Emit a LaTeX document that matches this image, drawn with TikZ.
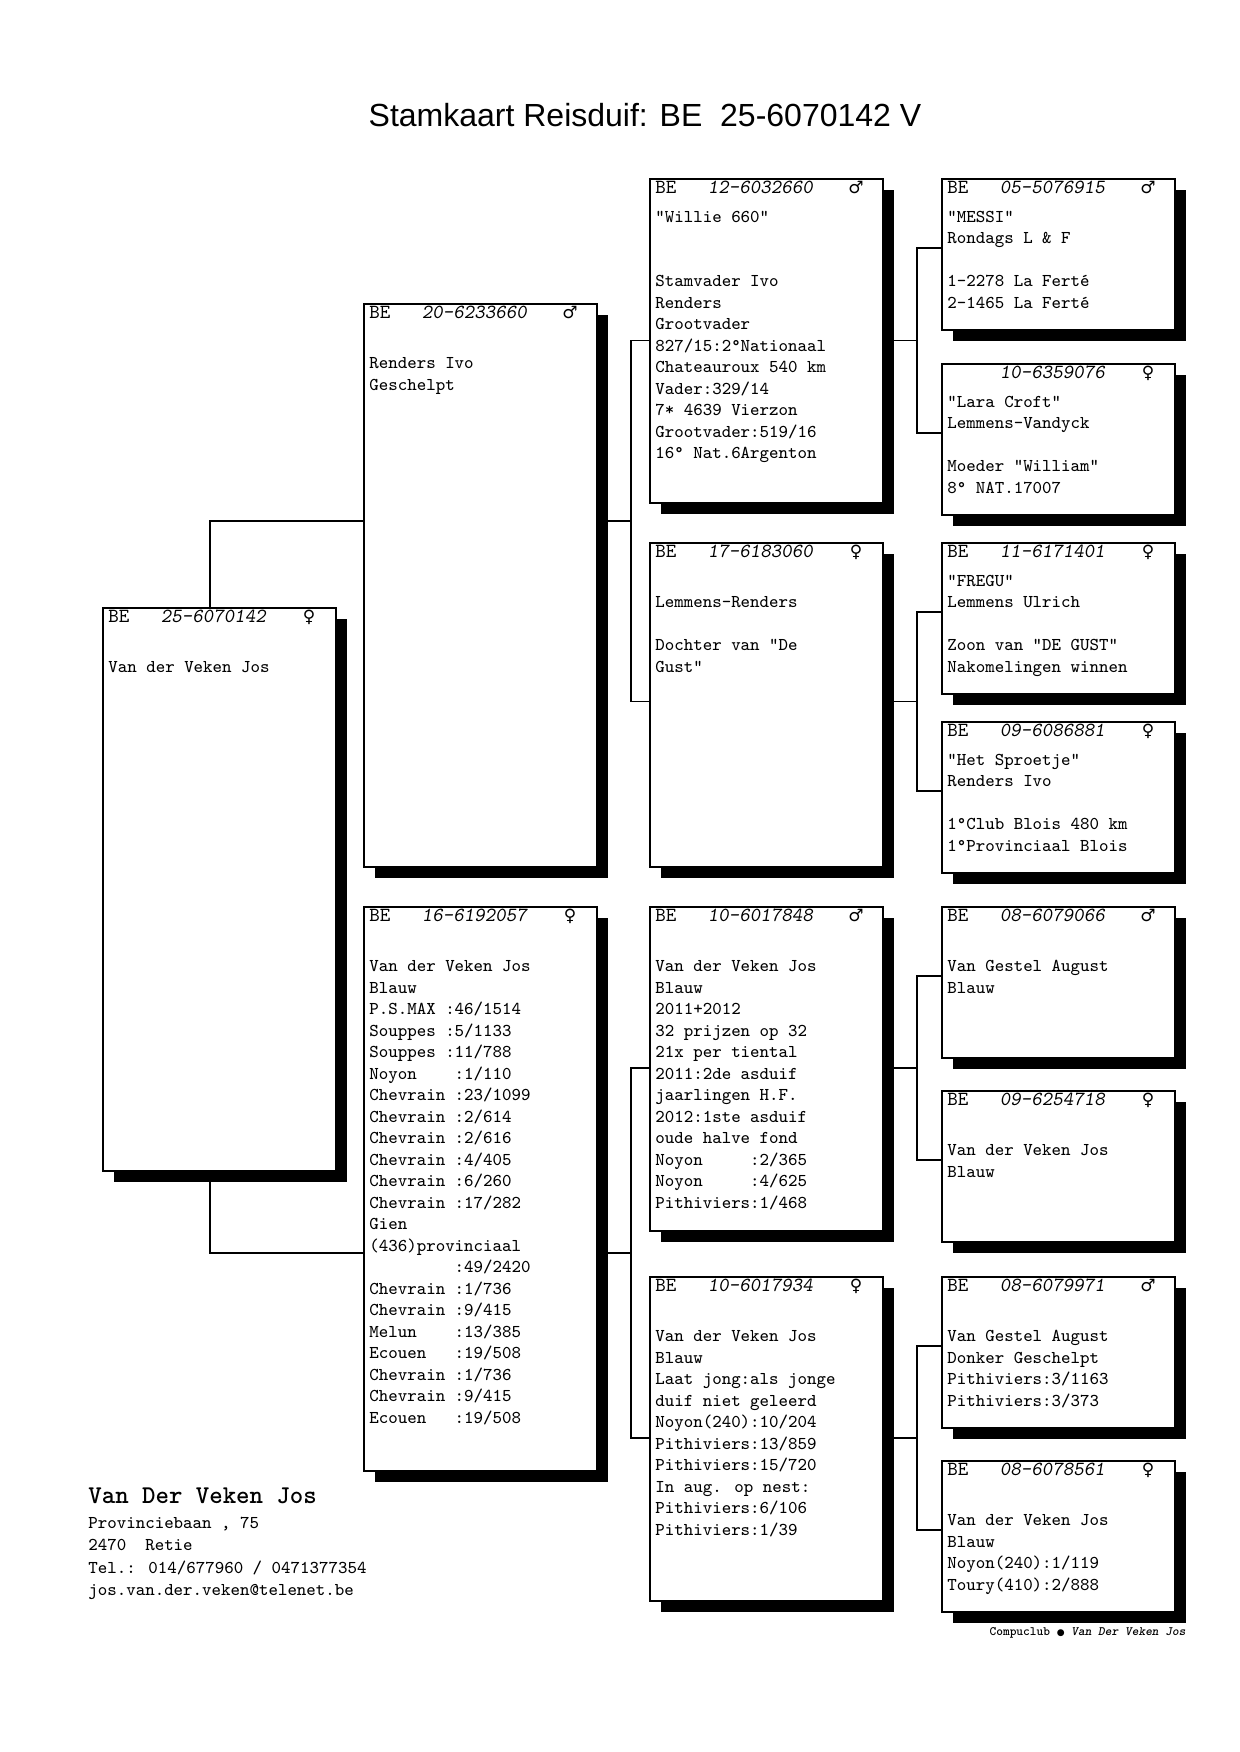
\documentclass[tikz,border=0pt]{standalone}
\usepackage{fontspec}
\usepackage{tikz}
\usetikzlibrary{calc,shadows,backgrounds}
\newfontfamily\titlefont{Liberation Sans}
\newfontfamily\symfont{DejaVu Sans}
\tikzset{
  card/.style={draw, line width=0.8pt, fill=white, anchor=north west, inner sep=0pt, minimum width=116.5pt,
    drop shadow={shadow xshift=5.5pt, shadow yshift=-5.5pt, fill=black, opacity=1}},
  head/.style={anchor=base west, inner sep=0pt, font=\ttfamily\fontsize{10}{11}\selectfont},
  sex/.style={anchor=base, inner sep=0pt, font=\symfont\fontsize{8.5}{10}\selectfont},
  row/.style={anchor=base west, inner sep=0pt, font=\ttfamily\fontsize{9.03}{10}\selectfont},
  link/.style={line width=0.7pt},
}
\newcommand{\kaart}[7]{%
  \node[card, minimum height=#4*0.5pt] (#1) at (#2,#3) {};
  \node[head] (#1-h) at ([xshift=3pt,yshift=-7.5pt]#1.north west) {#5};
  \node[sex] (#1-s) at ([xshift=103.5pt,yshift=-7.5pt]#1.north west) {#6};
  \foreach \t [count=\i] in {#7} {%
    \node[row] (#1-\i) at ([xshift=3pt,yshift={-(22+(\i-1)*10.75)*1pt}]#1.north west) {\t};
  }}
\newcommand{\ingang}[1]{\coordinate (#1-c) at ([yshift=-35pt]#1.north west);}
\newcommand{\koppel}[4]{%
  \coordinate (#1-c) at ($(#2-c)!.5!(#3-c)$);
  \coordinate (#1-c) at (#1.west |- #1-c);
  \coordinate (#1-k) at (#4,0 |- #1-c);
  \draw[link] (#1.east |- #1-c) -- (#1-k);
  \draw[link] (#2-c) -| (#1-k) |- (#3-c);}

\begin{document}
\begin{tikzpicture}[x=0.5pt,y=-0.5pt]
  \useasboundingbox (0,0) rectangle (1239,1752);
  \node[font=\titlefont\fontsize{16}{19}\selectfont, anchor=base, inner sep=0pt] (titel) at (645,126)
    {Stamkaart Reisduif: BE~~25-6070142 V};

  \kaart{duif}{102}{607}{563}{BE~~~\textsl{25-6070142}}{♀}{,Van der Veken Jos}
  \kaart{v}{363}{303}{563}{BE~~~\textsl{20-6233660}}{♂}{,Renders Ivo,Geschelpt}
  \kaart{m}{363}{906}{564}{BE~~~\textsl{16-6192057}}{♀}{,Van der Veken Jos,Blauw,P.S.MAX :46/1514,
    Souppes :5/1133,Souppes :11/788,Noyon~~~~:1/110,Chevrain :23/1099,Chevrain :2/614,Chevrain :2/616,
    Chevrain :4/405,Chevrain :6/260,Chevrain :17/282,Gien,(436)provinciaal,~~~~~~~~~:49/2420,
    Chevrain :1/736,Chevrain :9/415,Melun~~~~:13/385,Ecouen~~~:19/508,Chevrain :1/736,
    Chevrain :9/415,Ecouen~~~:19/508}
  \kaart{vv}{649}{178}{324}{BE~~~\textsl{12-6032660}}{♂}{"Willie 660",,,Stamvader Ivo,Renders,
    Grootvader,827/15:2°Nationaal,Chateauroux 540 km,Vader:329/14,7* 4639 Vierzon,
    Grootvader:519/16,16° Nat.6Argenton}
  \kaart{vm}{649}{542}{324}{BE~~~\textsl{17-6183060}}{♀}{,Lemmens-Renders,,Dochter van "De,Gust"}
  \kaart{mv}{649}{906}{324}{BE~~~\textsl{10-6017848}}{♂}{,Van der Veken Jos,Blauw,2011+2012,
    32 prijzen op 32,21x per tiental,2011:2de asduif,jaarlingen H.F.,2012:1ste asduif,
    oude halve fond,Noyon~~~~~:2/365,Noyon~~~~~:4/625,Pithiviers:1/468}
  \kaart{mm}{649}{1276}{324}{BE~~~\textsl{10-6017934}}{♀}{,Van der Veken Jos,Blauw,
    Laat jong:als jonge,duif niet geleerd,Noyon(240):10/204,Pithiviers:13/859,Pithiviers:15/720,
    In aug. op nest:,Pithiviers:6/106,Pithiviers:1/39}

  \kaart{vvv}{941}{178}{151}{BE~~~\textsl{05-5076915}}{♂}{"MESSI",Rondags L \& F,,1-2278 La Ferté,2-1465 La Ferté}
  \kaart{vvm}{941}{363}{151}{~~~~~\textsl{10-6359076}}{♀}{"Lara Croft",Lemmens-Vandyck,,Moeder "William",8° NAT.17007}
  \kaart{vmv}{941}{542}{151}{BE~~~\textsl{11-6171401}}{♀}{"FREGU",Lemmens Ulrich,,Zoon van "DE GUST",Nakomelingen winnen}
  \kaart{vmm}{941}{721}{151}{BE~~~\textsl{09-6086881}}{♀}{"Het Sproetje",Renders Ivo,,1°Club Blois 480 km,1°Provinciaal Blois}
  \kaart{mvv}{941}{906}{151}{BE~~~\textsl{08-6079066}}{♂}{,Van Gestel August,Blauw}
  \kaart{mvm}{941}{1090}{151}{BE~~~\textsl{09-6254718}}{♀}{,Van der Veken Jos,Blauw}
  \kaart{mmv}{941}{1276}{151}{BE~~~\textsl{08-6079971}}{♂}{,Van Gestel August,Donker Geschelpt,Pithiviers:3/1163,Pithiviers:3/373}
  \kaart{mmm}{941}{1460}{151}{BE~~~\textsl{08-6078561}}{♀}{,Van der Veken Jos,Blauw,Noyon(240):1/119,Toury(410):2/888}

  \begin{scope}[on background layer]
    \foreach \n in {vvv,vvm,vmv,vmm,mvv,mvm,mmv,mmm} {\ingang{\n}}
    \koppel{vv}{vvv}{vvm}{917}
    \koppel{vm}{vmv}{vmm}{917}
    \koppel{mv}{mvv}{mvm}{917}
    \koppel{mm}{mmv}{mmm}{917}
    \koppel{v}{vv}{vm}{631}
    \koppel{m}{mv}{mm}{631}
    \draw[link] ([xshift=-4.75pt]duif.north) |- (v-c);
    \draw[link] ([xshift=-4.75pt]duif.south) |- (m-c);
  \end{scope}

  \node[anchor=base west, inner sep=0pt, font=\ttfamily\bfseries\fontsize{12.8}{14}\selectfont] (eig) at (88,1503)
    {Van Der Veken Jos};
  \foreach \t [count=\i] in {{Provinciebaan , 75},2470~ Retie,Tel.: 014/677960 / 0471377354,jos.van.der.veken@telenet.be}
    \node[row] (adres-\i) at ([yshift={-(12.5+(\i-1)*11.3)*1pt}]eig.base west) {\t};
  \node[anchor=base east, inner sep=0pt, font=\ttfamily\bfseries\fontsize{6.4}{7}\selectfont] (club) at (1186,1635)
    {Compuclub {\symfont\fontsize{4.5}{6}\selectfont ●} \textsl{Van Der Veken Jos}};
\end{tikzpicture}
\end{document}
